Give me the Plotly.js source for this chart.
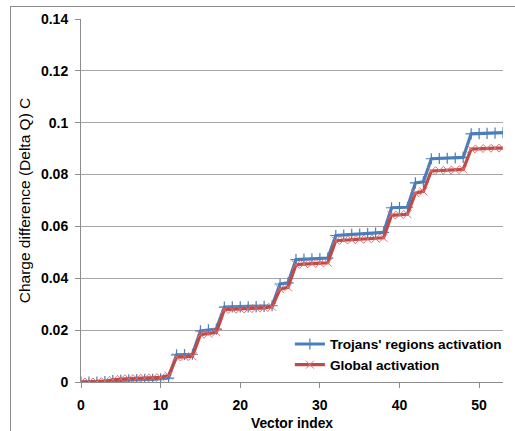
<!DOCTYPE html>
<html>
<head>
<meta charset="utf-8">
<script src="https://cdn.plot.ly/plotly-3.0.1.min.js"></script>
<style>
html,body{margin:0;padding:0;background:#fff;overflow:hidden;width:515px;height:431px;}
#chart{position:absolute;left:0;top:0;width:515px;height:431px;}
#frame{position:absolute;left:10px;top:6px;width:600px;height:500px;border-left:1px solid #8c8c8c;border-top:1px solid #8c8c8c;pointer-events:none;}
</style>
</head>
<body>
<div id="chart"></div>
<div id="frame"></div>
<script>
var vectorIndex = [];
for (var i = 0; i <= 53; i++) vectorIndex.push(i);

var trojansActivation = [
  0, 0, 0, 0.0002, 0.0005, 0.0007, 0.0008, 0.0009, 0.001, 0.001, 0.0012, 0.0015,
  0.0105, 0.0106, 0.0107,
  0.0197, 0.0201, 0.0204,
  0.0289, 0.029, 0.029, 0.029, 0.0291, 0.0292, 0.0294,
  0.0378, 0.0382,
  0.0472, 0.0474, 0.0475, 0.0476, 0.0478,
  0.0565, 0.0567, 0.0569, 0.057, 0.0572, 0.0574, 0.0577,
  0.0672, 0.0673, 0.0674,
  0.0768, 0.0772,
  0.0861, 0.0862, 0.0863, 0.0864, 0.0866,
  0.0957, 0.0958, 0.0959, 0.096, 0.0962
];

var globalActivation = [
  0, 0, 0, 0.0003, 0.0008, 0.0012, 0.0013, 0.0014, 0.0015, 0.0016, 0.0018, 0.0025,
  0.0096, 0.0097, 0.0099,
  0.0183, 0.0186, 0.0192,
  0.0279, 0.028, 0.0281, 0.0282, 0.0284, 0.0286, 0.029,
  0.0358, 0.0365,
  0.0452, 0.0455, 0.0457, 0.0458, 0.046,
  0.0545, 0.0547, 0.0548, 0.055, 0.0551, 0.0553, 0.0556,
  0.0643, 0.0645, 0.0647,
  0.0728, 0.0735,
  0.0814, 0.0816, 0.0817, 0.0818, 0.082,
  0.0898, 0.09, 0.0901, 0.0902, 0.0902
];

var seriesNames = ["Trojans' regions activation", "Global activation"];
var yTicks = [0, 0.02, 0.04, 0.06, 0.08, 0.1, 0.12, 0.14];
var yTickText = ["0", "0.02", "0.04", "0.06", "0.08", "0.1", "0.12", "0.14"];
var xTicks = [0, 10, 20, 30, 40, 50];

var fontFam = "Arial, 'Liberation Sans', sans-serif";

var traces = [
  {
    x: vectorIndex, y: trojansActivation, name: seriesNames[0],
    type: 'scatter', mode: 'lines+markers',
    line: {color: '#4a7ebb', width: 3.2},
    marker: {symbol: 'cross-thin-open', size: 8, color: '#4a7ebb', line: {color: '#4a7ebb', width: 1.2}}
  },
  {
    x: vectorIndex, y: globalActivation, name: seriesNames[1],
    type: 'scatter', mode: 'lines+markers',
    line: {color: '#be4b48', width: 3.2},
    marker: {symbol: 'x-thin-open', size: 8, color: '#e07070', line: {color: '#dc6a6a', width: 1}}
  }
];

var layout = {
  width: 515, height: 431,
  margin: {l: 81, r: 12, t: 19, b: 49, autoexpand: false},
  paper_bgcolor: '#fff', plot_bgcolor: '#fff',
  font: {family: fontFam, size: 13, color: '#000'},
  showlegend: true,
  legend: {
    x: 0.495, xanchor: 'left', y: 0.147, yanchor: 'top',
    bgcolor: 'rgba(255,255,255,0)', borderwidth: 0,
    font: {family: fontFam, size: 13.6, color: '#000', weight: 'bold'},
    tracegroupgap: 0
  },
  xaxis: {
    range: [0, 53],
    tickvals: xTicks, ticktext: xTicks.map(String),
    ticks: 'outside', ticklen: 5, tickcolor: '#8c8c8c', tickwidth: 1,
    showgrid: false, zeroline: false,
    showline: true, linecolor: '#8c8c8c', linewidth: 1,
    tickfont: {family: fontFam, size: 14, color: '#000', weight: 'bold'},
    ticklabelstandoff: 5,
    automargin: false,
    title: {text: 'Vector index', font: {family: fontFam, size: 13.8, color: '#000', weight: 'bold'}, standoff: 6}
  },
  yaxis: {
    range: [0, 0.14],
    tickvals: yTicks, ticktext: yTickText,
    ticks: 'outside', ticklen: 5, tickcolor: '#8c8c8c', tickwidth: 1,
    showgrid: true, gridcolor: '#a6a6a6', gridwidth: 1,
    zeroline: false,
    showline: true, linecolor: '#8c8c8c', linewidth: 1,
    tickfont: {family: fontFam, size: 14, color: '#000', weight: 'bold'},
    ticklabelstandoff: 4,
    automargin: false,
    title: {text: 'Charge difference (Delta Q) C', font: {family: fontFam, size: 15.5, color: '#000'}, standoff: 6}
  }
};

Plotly.newPlot('chart', traces, layout, {displayModeBar: false, staticPlot: true});
</script>
</body>
</html>
